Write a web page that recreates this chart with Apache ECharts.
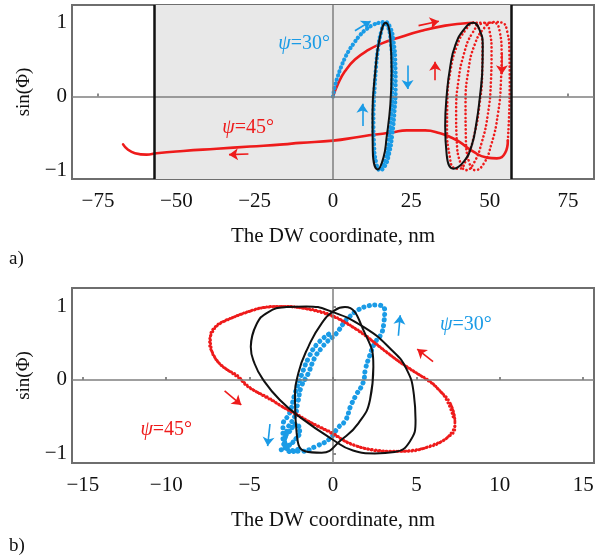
<!DOCTYPE html>
<html>
<head>
<meta charset="utf-8">
<script src="https://cdn.jsdelivr.net/npm/echarts@6/dist/echarts.min.js"></script>
<style>html,body{margin:0;padding:0;background:#fff}#c{width:596px;height:557px}</style>
</head>
<body>
<div id="c"></div>
<script>
// ---------- Panel a data ----------
const xTicksA = [-75, -50, -25, 0, 25, 50, 75];
const yTicks = [-1, 0, 1];
const wallsA = [-57, 57];
const redRiseA = [[0,0],[1.7,0.18],[3.8,0.34],[7,0.5],[11.3,0.63],[15.6,0.72],[21.9,0.81],[28.3,0.89],[35.8,0.96],[41.5,0.99],[44.8,1.0]];
const redLoopsA = [[44.8,1.0],[46.8,0.9],[47.7,0.65],[47.6,0.3],[46.8,-0.1],[45.2,-0.5],[42.8,-0.82],[40.3,-0.98],[38.6,-0.97],[37.2,-0.8],[36.4,-0.45],[36.5,-0.05],[37.5,0.35],[39.5,0.68],[42.3,0.9],[45.3,1.0],[48.2,1.0],[50.0,0.88],[50.6,0.6],[50.4,0.2],[49.4,-0.25],[47.5,-0.62],[45,-0.9],[42.5,-1.0],[40.8,-0.92],[39.5,-0.6],[39.3,-0.2],[40,0.2],[41.8,0.58],[44.5,0.86],[47.8,0.99],[51.4,1.0],[53.2,0.88],[53.8,0.6],[53.6,0.2],[52.6,-0.25],[50.6,-0.64],[48,-0.92],[45.3,-1.0],[43.5,-0.9],[42.4,-0.55],[42.3,-0.1],[43.2,0.35],[45.2,0.7],[48.3,0.93],[51.5,1.01],[54.0,1.0],[55.6,0.88],[56.3,0.6],[56.4,0.2],[56.2,-0.25],[55.8,-0.6]];
const redReturnA = [[55.8,-0.6],[54.9,-0.77],[52.3,-0.84],[49.1,-0.83],[44.8,-0.75],[40.5,-0.62],[37.9,-0.56],[34.2,-0.5],[29.4,-0.46],[23.5,-0.46],[18.8,-0.49],[12.9,-0.52],[8.1,-0.55],[0,-0.6],[-10.5,-0.63],[-15.9,-0.65],[-26.5,-0.68],[-37.1,-0.71],[-47.8,-0.74],[-56.3,-0.77],[-59.5,-0.79],[-63.2,-0.77],[-65.5,-0.72],[-67,-0.65]];
const blueA = [[0,0],[0.6,0.14],[1.5,0.27],[2.6,0.4],[3.8,0.52],[5.2,0.63],[6.8,0.73],[8.6,0.83],[10.6,0.91],[12.8,0.97],[14.8,1.0],[16.6,1.01],[18.2,0.94],[19.3,0.75],[19.9,0.45],[20.0,0.12],[19.6,-0.22],[18.9,-0.52],[17.9,-0.78],[16.5,-0.95],[15,-1.0],[13.8,-0.9],[13.1,-0.65],[12.9,-0.3],[13.2,0.05],[13.7,0.38],[14.4,0.66],[15.4,0.88],[16.5,0.99],[17.6,0.94],[18.5,0.72],[18.9,0.4],[18.9,0.05],[18.5,-0.3],[17.8,-0.6],[16.8,-0.85],[15.5,-0.98]];
const blackA1 = [[18.7,0.34],[18.3,-0.11],[17.1,-0.56],[16.1,-0.83],[14.3,-0.99],[12.7,-0.74],[12.6,-0.25],[13.5,0.34],[14.9,0.79],[16.8,1.0],[18.3,0.79],[18.7,0.34],[18.3,-0.11]];
const blackA2 = [[47.6,0.3],[46.9,0.0],[45.8,-0.35],[44.3,-0.66],[41.8,-0.88],[38.4,-0.98],[36.3,-0.8],[35.8,-0.4],[36.3,0.02],[37.4,0.4],[39,0.69],[42,0.92],[44.8,1.0],[46.8,0.9],[47.8,0.69],[47.6,0.3],[46.9,0.0]];
const arrowsRedA = [[[27.3,0.96],[33.8,1.02]],[[53.9,0.6],[53.9,0.3]],[[32.6,0.22],[32.6,0.47]],[[-27,-0.78],[-33.2,-0.79]]];
const arrowsBlueA = [[[7,0.89],[12,1.02]],[[23.8,0.42],[23.8,0.1]],[[9.4,-0.4],[9.4,-0.1]]];
const label30A = [-9.2, 0.72];
const label45A = [-27.1, -0.42];

// ---------- Panel b data ----------
const xTicksB = [-15, -10, -5, 0, 5, 10, 15];
const redB = [[7.31,-0.56],[7.01,-0.31],[6.41,-0.15],[5.82,-0.02],[5.02,0.09],[4.21,0.21],[3.42,0.34],[2.62,0.48],[1.82,0.63],[1.02,0.74],[0.22,0.84],[-0.6,0.91],[-1.28,0.95],[-2.28,0.99],[-3.28,1.0],[-4.28,0.98],[-5.28,0.91],[-6.28,0.82],[-7.07,0.72],[-7.35,0.57],[-7.3,0.43],[-7.07,0.3],[-6.47,0.16],[-5.68,0.05],[-5.28,-0.06],[-4.68,-0.15],[-3.88,-0.24],[-3.08,-0.36],[-2.28,-0.45],[-1.48,-0.56],[-0.68,-0.65],[0.12,-0.74],[0.6,-0.82],[1.42,-0.9],[2.42,-0.95],[3.82,-0.97],[5.02,-0.95],[6.02,-0.88],[6.82,-0.79],[7.31,-0.65],[7.31,-0.56],[7.01,-0.31]];
const redB2 = [[7.2,-0.5],[6.8,-0.27],[6.2,-0.1],[5.5,0.02],[4.7,0.14],[3.9,0.26],[3.1,0.4],[2.3,0.54],[1.5,0.67],[0.7,0.79],[-0.1,0.88],[-0.9,0.94],[-1.9,0.98],[-2.9,1.0],[-3.9,0.99],[-4.9,0.94],[-5.9,0.86],[-6.8,0.76],[-7.25,0.64],[-7.4,0.5],[-7.2,0.36],[-6.8,0.22],[-6.1,0.1],[-5.5,0.0],[-5.0,-0.1],[-4.3,-0.2],[-3.5,-0.3],[-2.7,-0.41],[-1.9,-0.51],[-1.1,-0.61],[-0.3,-0.7],[0.4,-0.79],[1.0,-0.86],[1.9,-0.93],[3.1,-0.97],[4.4,-0.97],[5.6,-0.92],[6.5,-0.84],[7.1,-0.72],[7.35,-0.6]];
const blueB = [[-2.9,-0.85],[-2.7,-0.65],[-2.3,-0.5],[-2.1,-0.3],[-1.9,-0.09],[-1.5,0.08],[-1.1,0.3],[-0.7,0.43],[-0.35,0.52],[0.2,0.63],[0.6,0.76],[1.0,0.86],[1.5,0.95],[2.0,1.0],[2.6,1.02],[3.1,0.95],[3.05,0.78],[2.9,0.63],[2.5,0.5],[2.2,0.33],[1.95,0.15],[1.8,-0.04],[1.4,-0.2],[1.05,-0.36],[0.75,-0.55],[0.3,-0.65],[-0.2,-0.8],[-1.0,-0.9],[-1.9,-0.97],[-2.6,-0.95],[-3.0,-0.8],[-3.0,-0.62],[-2.6,-0.45],[-2.3,-0.2],[-1.9,0.06],[-1.4,0.33],[-0.9,0.5],[-0.2,0.63]];
const blueBlobB = [[-3.1,-0.95],[-2.7,-0.9],[-2.3,-0.82],[-2.0,-0.7],[-2.2,-0.6],[-2.6,-0.7],[-2.9,-0.8],[-2.5,-0.98],[-2.0,-0.93]];
const blackB1 = [[-4.93,0.45],[-4.6,0.75],[-3.9,0.92],[-2.8,0.99],[-1.6,1.0],[-0.1,0.93],[1.9,0.71],[3.5,0.41],[4.4,0.15],[4.85,-0.2],[4.95,-0.55],[4.6,-0.84],[3.7,-0.98],[2.5,-1.0],[1.2,-0.96],[-0.1,-0.8],[-1.9,-0.52],[-3.2,-0.27],[-4.18,0],[-4.7,0.22],[-4.93,0.45],[-4.6,0.75]];
const blackB2 = [[2.42,0.18],[2.22,-0.27],[1.52,-0.59],[0.52,-0.81],[-0.68,-0.99],[-1.68,-0.97],[-2.18,-0.72],[-2.28,-0.27],[-2.08,0.09],[-1.48,0.45],[-0.68,0.77],[0.12,0.95],[0.72,0.99],[1.92,0.63],[2.42,0.18],[2.22,-0.27]];
const arrowsRedB = [[[-6.5,-0.15],[-5.5,-0.34]],[[6.0,0.25],[5.05,0.42]]];
const arrowsBlueB = [[[-3.78,-0.6],[-3.92,-0.9]],[[3.92,0.6],[4.03,0.88]]];
const label30B = [7.97, 0.75];
const label45B = [-10.0, -0.68];

const RED = '#ee1b1b';
const BLUE = '#1a9be6';
const FONT = '"Liberation Serif", "Times New Roman", serif';
const minusFmt = v => (v < 0 ? '\u2212' + Math.abs(v) : String(v));

function xAxisCfg(gi, lim, ticks) {
  return {
    type: 'value', gridIndex: gi, min: -lim, max: lim,
    axisLine: { show: false }, splitLine: { show: false },
    axisTick: { show: true, inside: true, length: 3, customValues: ticks, lineStyle: { color: '#666', width: 1.5 } },
    axisLabel: { customValues: ticks, formatter: minusFmt, fontFamily: FONT, fontSize: 21, color: '#111', margin: 12 },
    name: 'The DW coordinate, nm', nameLocation: 'middle', nameGap: 47,
    nameTextStyle: { fontFamily: FONT, fontSize: 21, color: '#111' }
  };
}
function yAxisCfg(gi, mn, mx) {
  return {
    type: 'value', gridIndex: gi, min: mn, max: mx,
    axisLine: { show: false }, splitLine: { show: false },
    axisTick: { show: true, inside: true, length: 3, customValues: yTicks, lineStyle: { color: '#666', width: 1.5 } },
    axisLabel: { customValues: yTicks, formatter: minusFmt, fontFamily: FONT, fontSize: 21, color: '#111', margin: 5 },
    name: 'sin(\u03A6)', nameLocation: 'middle', nameRotate: 90, nameGap: 27,
    nameTextStyle: { fontFamily: FONT, fontSize: 19, color: '#111' }
  };
}
function lineS(gi, data, color, width, type, z) {
  return {
    type: 'line', xAxisIndex: gi, yAxisIndex: gi, data: data, smooth: 0.5,
    showSymbol: false, symbol: 'none', silent: true, z: z,
    lineStyle: { color: color, width: width, type: type || 'solid', cap: 'round' }
  };
}
function dotS(gi, data, color, width, gap, z) {
  return {
    type: 'line', xAxisIndex: gi, yAxisIndex: gi, data: data, smooth: 0.5,
    showSymbol: false, symbol: 'none', silent: true, z: z,
    lineStyle: { color: color, width: width, type: [0.1, gap], cap: 'round' }
  };
}
function arrowS(gi, arrows, color) {
  return {
    type: 'line', xAxisIndex: gi, yAxisIndex: gi, data: [], silent: true, z: 8,
    markLine: {
      silent: true, symbol: ['none', 'arrow'], symbolSize: 9, animation: false,
      label: { show: false },
      lineStyle: { color: color, width: 1.6, type: 'solid' },
      itemStyle: { color: color },
      data: arrows.map(a => [{ coord: a[0] }, { coord: a[1] }])
    }
  };
}
function labelS(gi, pos, deg, color) {
  return {
    type: 'line', xAxisIndex: gi, yAxisIndex: gi, data: [], silent: true, z: 9,
    markPoint: {
      symbol: 'circle', symbolSize: 1, itemStyle: { color: 'rgba(0,0,0,0)' }, animation: false,
      label: {
        show: true, position: 'inside', color: color, fontFamily: FONT, fontSize: 20,
        formatter: '{i|\u03C8}=' + deg + '\u00B0',
        rich: { i: { fontStyle: 'italic', fontFamily: FONT, fontSize: 20, color: color } }
      },
      data: [{ coord: pos }]
    }
  };
}
function refS(gi, lines, color, width, z) {
  return {
    type: 'line', xAxisIndex: gi, yAxisIndex: gi, data: [], silent: true, z: z,
    markLine: {
      silent: true, symbol: 'none', animation: false, label: { show: false },
      lineStyle: { color: color, width: width, type: 'solid' },
      data: lines
    }
  };
}

const chart = echarts.init(document.getElementById('c'), null, { renderer: 'canvas' });
chart.setOption({
  animation: false,
  backgroundColor: '#fff',
  grid: [
    { left: 72, top: 5, width: 522, height: 174, show: true, borderColor: '#6e6e6e', borderWidth: 2, backgroundColor: '#fff', containLabel: false, outerBoundsMode: 'none' },
    { left: 72, top: 288, width: 522, height: 175, show: true, borderColor: '#6e6e6e', borderWidth: 2, backgroundColor: '#fff', containLabel: false, outerBoundsMode: 'none' }
  ],
  xAxis: [xAxisCfg(0, 83.3, xTicksA), xAxisCfg(1, 15.65, xTicksB)],
  yAxis: [yAxisCfg(0, -1.12, 1.24), yAxisCfg(1, -1.13, 1.25)],
  graphic: [
    { type: 'text', left: 9, top: 250, style: { text: 'a)', font: '19px "Liberation Serif"', fill: '#111' } },
    { type: 'text', left: 9, top: 537, style: { text: 'b)', font: '19px "Liberation Serif"', fill: '#111' } }
  ],
  series: [
    // panel a
    {
      type: 'line', xAxisIndex: 0, yAxisIndex: 0, data: [], silent: true, z: 0,
      markArea: { silent: true, animation: false, itemStyle: { color: '#e8e8e8' }, data: [[{ xAxis: wallsA[0] }, { xAxis: wallsA[1] }]] }
    },
    refS(0, [{ xAxis: 0 }, { yAxis: 0 }], '#7f7f7f', 1.5, 1),
    refS(0, wallsA.map(v => ({ xAxis: v })), '#111', 2.5, 2),
    lineS(0, redRiseA, RED, 2.6, 'solid', 3),
    dotS(0, redLoopsA, RED, 2.6, 3.8, 3),
    lineS(0, redReturnA, RED, 2.6, 'solid', 3),
    dotS(0, blueA, BLUE, 4.2, 4.2, 4),
    lineS(0, blackA1, '#111', 2, 'solid', 5),
    lineS(0, blackA2, '#111', 2, 'solid', 5),
    arrowS(0, arrowsRedA, RED),
    arrowS(0, arrowsBlueA, BLUE),
    labelS(0, label30A, 30, BLUE),
    labelS(0, label45A, 45, RED),
    // panel b
    refS(1, [{ xAxis: 0 }, { yAxis: 0 }], '#7f7f7f', 1.5, 1),
    dotS(1, blueB, BLUE, 5, 5.5, 3),
    dotS(1, blueBlobB, BLUE, 5, 4.5, 3),
    dotS(1, redB, RED, 3, 3.6, 4),
    dotS(1, redB2, RED, 3, 3.6, 4),
    lineS(1, blackB1, '#111', 2, 'solid', 5),
    lineS(1, blackB2, '#111', 2, 'solid', 5),
    arrowS(1, arrowsRedB, RED),
    arrowS(1, arrowsBlueB, BLUE),
    labelS(1, label30B, 30, BLUE),
    labelS(1, label45B, 45, RED)
  ]
});
</script>
</body>
</html>
